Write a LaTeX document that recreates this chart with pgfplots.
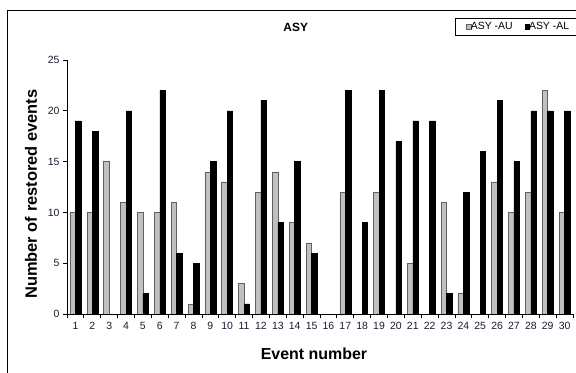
\documentclass[border=0pt]{standalone}
\usepackage{pgfplots}
\pgfplotsset{compat=1.18}
\usepackage{fontspec}
\setmainfont{Liberation Sans}
\definecolor{augray}{HTML}{C0C0C0}
\definecolor{auedge}{HTML}{606060}
\definecolor{ticktxt}{HTML}{1A1A2E}
\pgfplotsset{sqlegend/.style={legend image code/.code={%
  \draw[##1] (0bp,-2.2bp) rectangle (4.4bp,2.2bp);}}}
\begin{document}
\begin{tikzpicture}[x=1bp,y=1bp]
\useasboundingbox (0,0) rectangle (576,372);
\draw[line width=0.8bp] (7,-5) -- (7,362) -- (580,362);
\begin{axis}[
  at={(67bp,58bp)}, anchor=south west,
  scale only axis, width=506bp, height=254bp,
  xmin=0.5, xmax=30.5, ymin=0, ymax=25,
  axis x line*=bottom, axis y line*=left,
  axis line style={line width=0.8bp, black},
  axis on top,
  ybar=0pt, bar width=5.5bp,
  ytick={0,5,...,25},
  xtick={1,...,30},
  minor xtick={0.5,1.5,...,30.5},
  tick align=outside,
  major tick length=4bp, minor tick length=4bp,
  major x tick style={draw=none},
  minor x tick style={draw=black, line width=0.8bp},
  major y tick style={draw=black, line width=0.8bp},
  tick label style={font=\fontsize{10.5}{12}\selectfont, text=ticktxt},
  /pgf/number format/assume math mode=true,
  xticklabel style={yshift=-0.5bp},
  ylabel={\bfseries Number of restored events},
  ylabel style={at={(axis description cs:-0.071,0.472)}, anchor=center, font=\fontsize{16.5}{19}\selectfont},
  xlabel={\bfseries Event number},
  xlabel style={at={(axis description cs:0.488,-0.157)}, anchor=center, font=\fontsize{16}{19}\selectfont},
  title={\bfseries ASY},
  title style={at={(axis description cs:0.452,1.106)}, anchor=center, font=\fontsize{12}{14}\selectfont},
  legend columns=2,
  legend style={at={(axis description cs:0.767,1.165)}, anchor=north west,
    draw=black, line width=0.6bp, font=\fontsize{10.5}{12}\selectfont,
    inner xsep=11bp, inner ysep=2bp,
    /tikz/every even column/.append style={column sep=10bp}},
]
\addplot[fill=augray, draw=auedge, line width=0.5bp, sqlegend]
coordinates {
(1,10) (2,10) (3,15) (4,11) (5,10) (6,10) (7,11) (8,1) (9,14) (10,13)
(11,3) (12,12) (13,14) (14,9) (15,7) (16,0) (17,12) (18,0) (19,12) (20,0)
(21,5) (22,0) (23,11) (24,2) (25,0) (26,13) (27,10) (28,12) (29,22) (30,10)
};
\addplot[fill=black, draw=black, line width=0.5bp, sqlegend]
coordinates {
(1,19) (2,18) (3,0) (4,20) (5,2) (6,22) (7,6) (8,5) (9,15) (10,20)
(11,1) (12,21) (13,9) (14,15) (15,6) (16,0) (17,22) (18,9) (19,22) (20,17)
(21,19) (22,19) (23,2) (24,12) (25,16) (26,21) (27,15) (28,20) (29,20) (30,20)
};
\legend{\hspace*{-2.5bp}ASY -AU, \hspace*{-2.5bp}ASY -AL}
\end{axis}
\end{tikzpicture}
\end{document}
